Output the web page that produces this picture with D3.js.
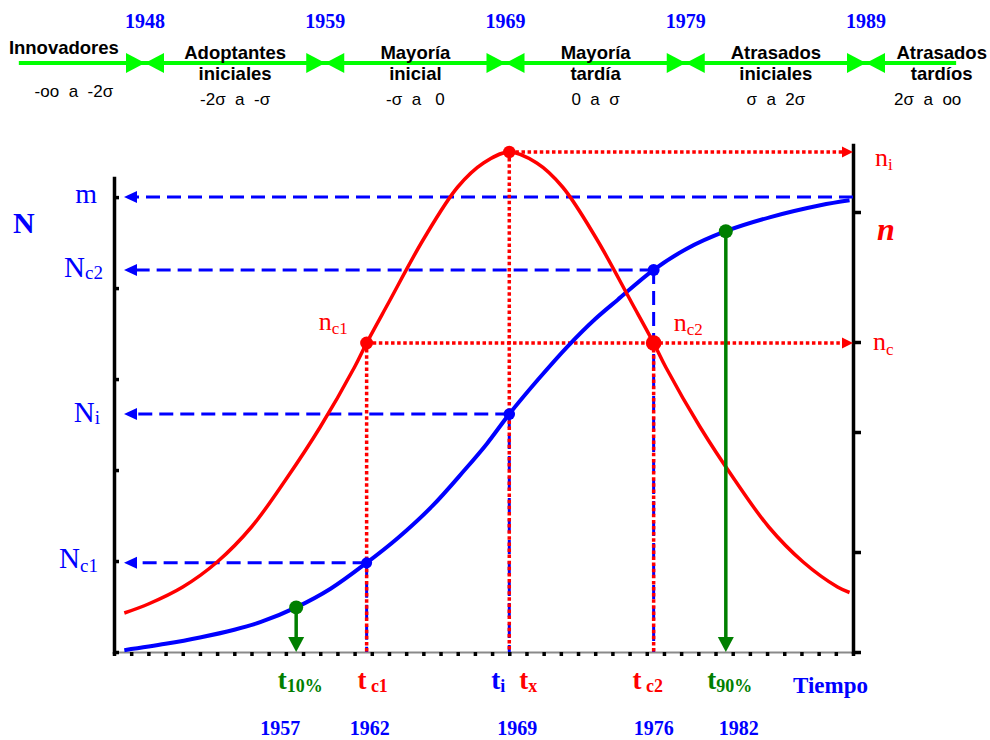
<!DOCTYPE html>
<html>
<head>
<meta charset="utf-8">
<title>Curva de difusión de una innovación</title>
<script src="https://cdn.jsdelivr.net/npm/d3@7/dist/d3.min.js"></script>
<style>
  html, body { margin: 0; padding: 0; background: #ffffff; }
  svg { display: block; }
</style>
</head>
<body>
<svg id="chart" width="990" height="740"></svg>
<script>
// ---------- adopter categories (top bar), boundaries in standard deviations ----------
const categoryLines = [["Innovadores"], ["Adoptantes", "iniciales"], ["Mayoría", "inicial"],
                       ["Mayoría", "tardía"], ["Atrasados", "iniciales"], ["Atrasados", "tardíos"]];
const categoryRanges = ["-oo  a  -2σ", "-2σ  a  -σ", "-σ  a   0", "0  a  σ", "σ  a  2σ", "2σ  a  oo"];
const boundarySigma = [-2, -1, 0, 1, 2];
const boundaryYears = [1948, 1959, 1969, 1979, 1989];

// ---------- time axis (43 minor divisions) ----------
const timeExtent = [0, 43];

// cumulative adopters N, in % of the saturation level m
const cumTime  = [0.6, 3.0, 5.0, 7.0, 8.55, 10.6, 12.6, 14.7, 16.5, 18.5, 20.4, 21.7, 23.0, 24.7, 26.4, 28.0, 29.3, 31.4, 33.3, 35.6, 38.2, 41.1, 42.8];
const cumValue = [0.4, 1.8, 3.2, 4.9, 6.6, 9.8, 13.9, 19.6, 25.0, 32.0, 40.0, 45.8, 52.3, 60.0, 67.2, 73.2, 77.4, 84.0, 88.6, 92.5, 95.6, 98.2, 99.3];

// adopters per period n, in % of the peak n_i
const rateTime  = [0.6, 2.0, 4.0, 6.0, 8.0, 10.0, 12.0, 14.0, 14.7, 16.0, 18.0, 20.0, 21.5, 23.0, 24.6, 26.1, 28.1, 30.1, 31.4, 32.1, 34.1, 36.1, 38.1, 40.1, 42.1, 42.8];
const rateValue = [7.8, 9.6, 13.0, 18.0, 25.0, 34.5, 45.0, 57.0, 61.8, 70.0, 82.5, 93.0, 97.8, 100, 97.8, 93.0, 82.5, 70.0, 61.8, 57.0, 45.0, 34.5, 25.0, 18.0, 13.0, 11.9];

// reference levels on both value axes
const levelM = 100, levelNc1 = 19.6, levelNi = 52.3, levelNc2 = 84.0, levelN10 = 9.8, levelN90 = 92.5;
const levelPeak = 100, levelNc = 61.8;
const leftTicks = [0, 20, 40, 60, 80, 100];
const rightTicks = [0, 20, 44, 62, 88];

// key instants on the time axis and their years
const tC1 = 14.7, tI = 23.0, tC2 = 31.4, t10 = 10.6, t90 = 35.6;
const eventTimes = [t10, tC1, tI, tC2, t90];
const eventYears = [1957, 1962, 1969, 1976, 1982];

// ---------- drawing ----------
const SERIF = '"Liberation Serif", "Times New Roman", Times, serif';
const SANS = '"Liberation Sans", Arial, Helvetica, sans-serif';
const RED = "#ff0000", BLUE = "#0000ff", GREEN = "#007f00", LIME = "#00ff00";

const svg = d3.select("#chart");

// top bar
const sigmaX = d3.scaleLinear().domain([-2, 2]).range([145, 866]);
const barExtent = [-2.7, 2.5];
const BAR_Y = 63;
const topBar = svg.append("g");
topBar.append("line")
  .attr("x1", sigmaX(barExtent[0])).attr("x2", sigmaX(barExtent[1]))
  .attr("y1", BAR_Y).attr("y2", BAR_Y)
  .attr("stroke", LIME).attr("stroke-width", 4);
boundarySigma.forEach((s, i) => {
  const bx = sigmaX(s);
  topBar.append("path").attr("d", `M${bx},${BAR_Y} L${bx - 19},${BAR_Y - 10} L${bx - 19},${BAR_Y + 10} Z`).attr("fill", LIME);
  topBar.append("path").attr("d", `M${bx},${BAR_Y} L${bx + 19},${BAR_Y - 10} L${bx + 19},${BAR_Y + 10} Z`).attr("fill", LIME);
  topBar.append("text")
    .attr("x", bx).attr("y", 28).attr("text-anchor", "middle")
    .attr("font-family", SERIF).attr("font-weight", "bold").attr("font-size", 20)
    .attr("fill", BLUE).text(boundaryYears[i]);
});
const lastB = boundarySigma.length - 1;
const categoryCentre = i =>
  i === 0 ? boundarySigma[0] - 0.45
  : i === categoryLines.length - 1 ? boundarySigma[lastB] + 0.42
  : (boundarySigma[i - 1] + boundarySigma[i]) / 2;

categoryLines.forEach((lines, i) => {
  const cx = sigmaX(categoryCentre(i));
  const single = lines.length === 1;
  lines.forEach((ln, j) => {
    topBar.append("text")
      .attr("x", cx).attr("y", single ? 54 : 59 + j * 21)
      .attr("text-anchor", "middle")
      .attr("font-family", SANS).attr("font-weight", "bold").attr("font-size", 18.5)
      .attr("fill", "#000").text(ln);
  });
  topBar.append("text")
    .attr("x", cx + (i === 0 ? 10 : i === categoryLines.length - 1 ? -14 : 0))
    .attr("y", single ? 97 : 105)
    .attr("text-anchor", "middle")
    .attr("font-family", SANS).attr("font-size", 17)
    .style("white-space", "pre")
    .attr("fill", "#000").text(categoryRanges[i]);
});

// plot scales
const x = d3.scaleLinear().domain(timeExtent).range([114, 853]);
const yN = d3.scaleLinear().domain([0, 104.2]).range([652, 178]);
const yn = d3.scaleLinear().domain([0, 101.4]).range([652, 145]);
const X0 = x(timeExtent[0]), X1 = x(timeExtent[1]), Y0 = yN(0);

// axes
const bottomAxis = svg.append("g").attr("transform", `translate(0,${Y0})`)
  .call(d3.axisBottom(x).tickValues(d3.range(timeExtent[0], timeExtent[1] + 1)).tickSize(4).tickSizeOuter(0).tickFormat(""));
bottomAxis.select(".domain").attr("stroke", "#8a8a8a").attr("stroke-width", 2);
bottomAxis.selectAll(".tick line").attr("stroke", "#000").attr("stroke-width", 3.5);

const leftAxis = svg.append("g").attr("transform", `translate(${X0},0)`)
  .call(d3.axisRight(yN).tickValues(leftTicks).tickSize(5).tickSizeOuter(0).tickFormat(""));
leftAxis.select(".domain").attr("stroke", "#000").attr("stroke-width", 3.5).attr("stroke-linecap", "square");
leftAxis.selectAll(".tick line").attr("stroke", "#000").attr("stroke-width", 3.5);

const rightAxis = svg.append("g").attr("transform", `translate(${X1},0)`)
  .call(d3.axisRight(yn).tickValues(rightTicks).tickSize(8).tickSizeOuter(0).tickFormat(""));
rightAxis.select(".domain").attr("stroke", "#000").attr("stroke-width", 3.5).attr("stroke-linecap", "square");
rightAxis.selectAll(".tick line").attr("stroke", "#000").attr("stroke-width", 3.5);

// arrow head helper: tip at (tx, ty)
function arrowHead(g, tx, ty, dir, len, half, color) {
  let d;
  if (dir === "left")  d = `M${tx},${ty} L${tx + len},${ty - half} L${tx + len},${ty + half} Z`;
  if (dir === "right") d = `M${tx},${ty} L${tx - len},${ty - half} L${tx - len},${ty + half} Z`;
  if (dir === "down")  d = `M${tx},${ty} L${tx - half},${ty - len} L${tx + half},${ty - len} Z`;
  g.append("path").attr("d", d).attr("fill", color);
}

const refs = svg.append("g");
const BLUE_DASH = "14 7", RED_DOT = "3.5 2.6";

// blue dashed guides to the N axis
const leftTip = X0 + 10;
[[X1, levelM], [x(tC2), levelNc2], [x(tI), levelNi], [x(tC1), levelNc1]].forEach(([sx, lv]) => {
  refs.append("line").attr("x1", sx).attr("x2", leftTip + 12).attr("y1", yN(lv)).attr("y2", yN(lv))
    .attr("stroke", BLUE).attr("stroke-width", 3).attr("stroke-dasharray", BLUE_DASH);
  arrowHead(refs, leftTip, yN(lv), "left", 13, 6, BLUE);
});
[[tC1, levelNc1], [tI, levelNi], [tC2, levelNc2]].forEach(([t, lv]) => {
  refs.append("line").attr("x1", x(t)).attr("x2", x(t)).attr("y1", yN(lv)).attr("y2", Y0)
    .attr("stroke", BLUE).attr("stroke-width", 3).attr("stroke-dasharray", BLUE_DASH);
});

// red dotted guides to the n axis
[[tI, levelPeak], [tC1, levelNc]].forEach(([t, lv]) => {
  refs.append("line").attr("x1", x(t)).attr("x2", X1 - 10).attr("y1", yn(lv)).attr("y2", yn(lv))
    .attr("stroke", RED).attr("stroke-width", 3.5).attr("stroke-dasharray", RED_DOT);
  arrowHead(refs, X1, yn(lv), "right", 11, 5.5, RED);
});
[[tC1, levelNc], [tI, levelPeak], [tC2, levelNc]].forEach(([t, lv]) => {
  refs.append("line").attr("x1", x(t)).attr("x2", x(t)).attr("y1", yn(lv)).attr("y2", Y0)
    .attr("stroke", RED).attr("stroke-width", 3.5).attr("stroke-dasharray", RED_DOT);
});

// curves
const cumLine = d3.line().x(d => x(d[0])).y(d => yN(d[1])).curve(d3.curveCatmullRom.alpha(0.5));
const rateLine = d3.line().x(d => x(d[0])).y(d => yn(d[1])).curve(d3.curveCatmullRom.alpha(0.5));
svg.append("path").datum(d3.zip(cumTime, cumValue)).attr("d", cumLine)
  .attr("fill", "none").attr("stroke", BLUE).attr("stroke-width", 4).attr("stroke-linejoin", "round");
svg.append("path").datum(d3.zip(rateTime, rateValue)).attr("d", rateLine)
  .attr("fill", "none").attr("stroke", RED).attr("stroke-width", 3.5).attr("stroke-linejoin", "round");

// green arrows for the 10% and 90% instants
[[t10, levelN10], [t90, levelN90]].forEach(([t, lv]) => {
  svg.append("line").attr("x1", x(t)).attr("x2", x(t)).attr("y1", yN(lv)).attr("y2", Y0 - 13)
    .attr("stroke", GREEN).attr("stroke-width", 3.5);
  arrowHead(svg, x(t), Y0, "down", 15, 8, GREEN);
  svg.append("circle").attr("cx", x(t)).attr("cy", yN(lv)).attr("r", 7).attr("fill", GREEN);
});

// points on the curves
[[tC1, levelNc1, 5.5], [tI, levelNi, 5.8], [tC2, levelNc2, 6]].forEach(([t, lv, r]) => {
  svg.append("circle").attr("cx", x(t)).attr("cy", yN(lv)).attr("r", r).attr("fill", BLUE);
});
[[tC1, levelNc, 6.5], [tI, levelPeak, 6.2], [tC2, levelNc, 7.8]].forEach(([t, lv, r]) => {
  svg.append("circle").attr("cx", x(t)).attr("cy", yn(lv)).attr("r", r).attr("fill", RED);
});

// text with a lowered subscript
function subText(g, o) {
  const t = g.append("text").attr("x", o.x).attr("y", o.y)
    .attr("text-anchor", o.anchor || "start")
    .attr("font-family", SERIF).attr("font-weight", o.weight || "normal")
    .attr("font-style", o.style || "normal").attr("fill", o.color)
    .style("white-space", "pre");
  t.append("tspan").attr("font-size", o.size).text(o.main);
  if (o.sub) t.append("tspan").attr("font-size", o.subSize).attr("dy", o.dy == null ? 5 : o.dy).text(o.sub);
  return t;
}

// N axis labels
const labels = svg.append("g");
labels.append("text").attr("x", 13).attr("y", 233)
  .attr("font-family", SERIF).attr("font-weight", "bold").attr("font-size", 30).attr("fill", BLUE).text("N");
subText(labels, { x: 97, y: yN(levelM) + 6, main: "m", size: 28, color: BLUE, anchor: "end" });
subText(labels, { x: 103, y: yN(levelNc2) + 7, main: "N", sub: "c2", size: 29, subSize: 19, dy: 2, color: BLUE, anchor: "end" });
subText(labels, { x: 100, y: yN(levelNi) + 8, main: "N", sub: "i", size: 29, subSize: 19, dy: 2, color: BLUE, anchor: "end" });
subText(labels, { x: 98, y: yN(levelNc1) + 5, main: "N", sub: "c1", size: 29, subSize: 19, dy: 4, color: BLUE, anchor: "end" });

// n axis labels
labels.append("text").attr("x", 877).attr("y", 240)
  .attr("font-family", SERIF).attr("font-weight", "bold").attr("font-style", "italic")
  .attr("font-size", 32).attr("fill", RED).text("n");
subText(labels, { x: 875, y: yn(levelPeak) + 14, main: "n", sub: "i", size: 26, subSize: 17, dy: 4, color: RED });
subText(labels, { x: 873, y: yn(levelNc) + 7, main: "n", sub: "c", size: 26, subSize: 17, dy: 5, color: RED });
subText(labels, { x: x(tC1) - 48, y: yn(levelNc) - 13, main: "n", sub: "c1", size: 26, subSize: 17, dy: 4, color: RED });
subText(labels, { x: x(tC2) + 20, y: yn(levelNc) - 12, main: "n", sub: "c2", size: 26, subSize: 17, dy: 4, color: RED });

// time labels below the axis
const TL = 689;
subText(labels, { x: x(t10) + 4, y: TL, main: "t", sub: "10%", size: 27, subSize: 18, dy: 3, color: GREEN, weight: "bold", anchor: "middle" });
subText(labels, { x: x(tC1) + 6, y: TL, main: "t", sub: " c1", size: 27, subSize: 18, dy: 3, color: RED, weight: "bold", anchor: "middle" });
subText(labels, { x: x(tI) - 4, y: TL, main: "t", sub: "i", size: 27, subSize: 18, dy: 3, color: BLUE, weight: "bold", anchor: "end" });
subText(labels, { x: x(tI) + 10, y: TL, main: "t", sub: "x", size: 27, subSize: 18, dy: 3, color: RED, weight: "bold", anchor: "start" });
subText(labels, { x: x(tC2) - 6, y: TL, main: "t", sub: " c2", size: 27, subSize: 18, dy: 3, color: RED, weight: "bold", anchor: "middle" });
subText(labels, { x: x(t90) + 4, y: TL, main: "t", sub: "90%", size: 27, subSize: 18, dy: 3, color: GREEN, weight: "bold", anchor: "middle" });
labels.append("text").attr("x", 793).attr("y", 693)
  .attr("font-family", SERIF).attr("font-weight", "bold").attr("font-size", 23).attr("fill", BLUE).text("Tiempo");

// year of each key instant
const yearNudge = { 1957: -16, 1962: 3, 1969: 8, 1976: 0, 1982: 13 };
eventTimes.forEach((t, i) => {
  labels.append("text").attr("x", x(t) + yearNudge[eventYears[i]]).attr("y", 735)
    .attr("text-anchor", "middle")
    .attr("font-family", SERIF).attr("font-weight", "bold").attr("font-size", 20)
    .attr("fill", BLUE).text(eventYears[i]);
});
</script>
</body>
</html>
